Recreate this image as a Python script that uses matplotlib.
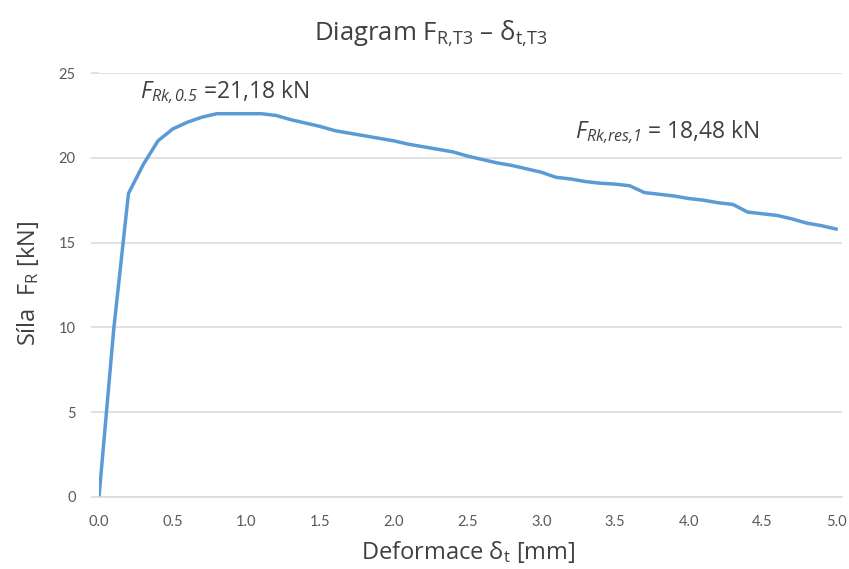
import matplotlib
matplotlib.use("Agg")
import matplotlib.pyplot as plt

# Load-deformation record of specimen T3
deformation_mm = [0.0, 0.1, 0.2, 0.3, 0.4, 0.5, 0.6, 0.7, 0.8, 0.9, 1.0,
                  1.1, 1.2, 1.3, 1.4, 1.5, 1.6, 1.7, 1.8, 1.9, 2.0,
                  2.1, 2.2, 2.3, 2.4, 2.5, 2.6, 2.7, 2.8, 2.9, 3.0,
                  3.1, 3.2, 3.3, 3.4, 3.5, 3.6, 3.7, 3.8, 3.9, 4.0,
                  4.1, 4.2, 4.3, 4.4, 4.5, 4.6, 4.7, 4.8, 4.9, 5.0]
force_kN = [0.0, 9.9, 17.9, 19.6, 21.0, 21.7, 22.1, 22.4, 22.6, 22.6, 22.6,
            22.6, 22.5, 22.25, 22.05, 21.85, 21.6, 21.45, 21.3, 21.15, 21.0,
            20.8, 20.65, 20.5, 20.35, 20.1, 19.9, 19.7, 19.55, 19.35, 19.15,
            18.85, 18.75, 18.6, 18.5, 18.45, 18.35, 17.95, 17.85, 17.75, 17.6,
            17.5, 17.35, 17.25, 16.8, 16.7, 16.6, 16.4, 16.15, 16.0, 15.8]

x_ticks = [0.0, 0.5, 1.0, 1.5, 2.0, 2.5, 3.0, 3.5, 4.0, 4.5, 5.0]
y_ticks = [0, 5, 10, 15, 20, 25]

F_rk_05 = "21,18"
F_rk_res1 = "18,48"

plt.rcParams["mathtext.fontset"] = "custom"
plt.rcParams["mathtext.rm"] = "Open Sans"
plt.rcParams["mathtext.it"] = "Open Sans:italic"
# italic face that also keeps digits and punctuation slanted
plt.rcParams["mathtext.sf"] = "Open Sans:italic"
plt.rcParams["font.family"] = ["Open Sans", "DejaVu Sans"]

fig = plt.figure(figsize=(8.49, 5.69), dpi=100)
ax = fig.add_axes([99 / 849, 1 - 497 / 569, (842 - 99) / 849, (497 - 73) / 569])

grid_c = "#D9D9D9"
ax.set_xlim(0, 5.04)
ax.set_ylim(0, 25)
ax.set_yticks(y_ticks)
ax.set_xticks(x_ticks)
ax.set_xticklabels([f"{v:.1f}" for v in x_ticks])
ax.grid(axis="y", color=grid_c, linewidth=1.1)
ax.set_axisbelow(True)
for s in ["top", "right", "left"]:
    ax.spines[s].set_visible(False)
ax.spines["bottom"].set_color(grid_c)
ax.spines["bottom"].set_linewidth(1.1)
ax.tick_params(axis="y", length=5.8, width=1.1, color=grid_c, pad=11,
               labelsize=10.5, labelcolor="#595959")
ax.tick_params(axis="x", length=0, pad=13, labelsize=10.5, labelcolor="#595959")
for lab in ax.get_xticklabels() + ax.get_yticklabels():
    lab.set_fontfamily("Lato")

ax.plot(deformation_mm, force_kN, color="#5B9BD5", linewidth=2.5,
        solid_joinstyle="round")

fig.text(0.507, 0.94,
         r"Diagram $\mathregular{F_{R{,}T3}}$ – $\mathregular{δ_{t{,}T3}}$",
         ha="center", va="center", fontsize=18.5, color="#404040")
fig.text(0.551, 0.03, r"Deformace $\mathregular{δ_t}$ [mm]", ha="center",
         va="center", fontsize=17, color="#404040")
fig.text(0.033, 0.503, r"Síla  $\mathregular{F_R}$ [kN]", ha="center",
         va="center", rotation=90, fontsize=17, color="#404040")

ax.text(0.28, 23.85, r"$\mathsf{F_{Rk,0.5}}$ =" + F_rk_05 + " kN",
        fontsize=16.5, color="#404040", va="center", ha="left")
ax.text(3.23, 21.5, r"$\mathsf{F_{Rk{,}res{,}1}}$ = " + F_rk_res1 + " kN",
        fontsize=16.5, color="#404040", va="center", ha="left")

fig.savefig("out.png", dpi=100, facecolor="white")
